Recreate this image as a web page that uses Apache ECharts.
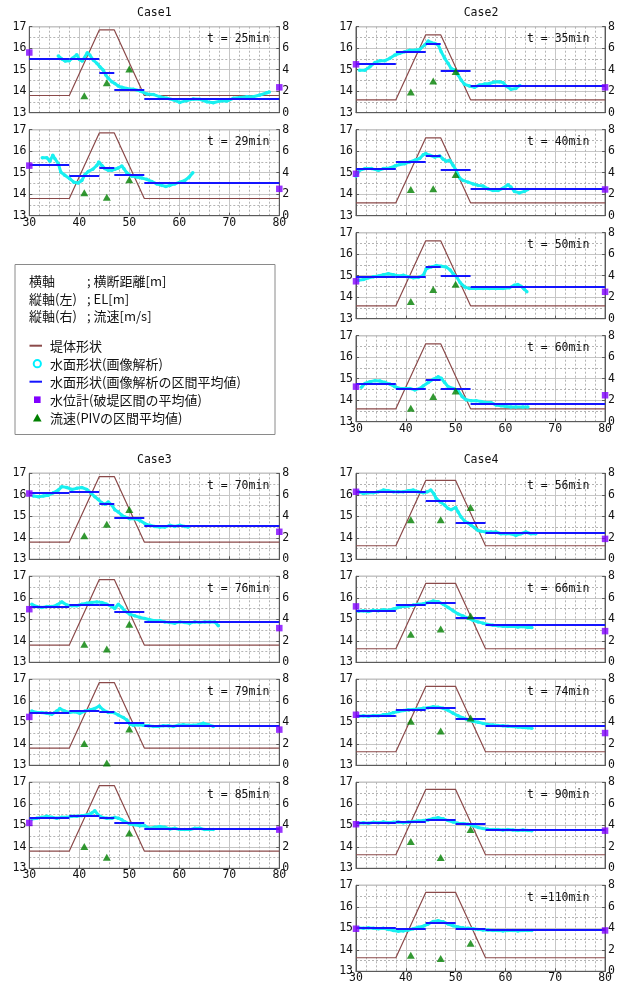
<!DOCTYPE html>
<html>
<head>
<meta charset="utf-8">
<script src="https://cdn.jsdelivr.net/npm/echarts@6/dist/echarts.min.js"></script>
<style>
html,body{margin:0;padding:0;background:#fff;}
#chart{width:618px;height:988px;}
</style>
</head>
<body>
<div id="chart"></div>
<script>
// ---- axis ticks ----
const distTicks = [30, 40, 50, 60, 70, 80];   // 横断距離 [m]
const elevTicks = [13, 14, 15, 16, 17];       // EL [m]
const velTicks  = [0, 2, 4, 6, 8];            // 流速 [m/s]

// ---- dyke cross sections (堤体形状) ----
const dykeCase13 = [[30,13.8],[38,13.8],[44,16.85],[47,16.85],[53,13.8],[80,13.8]];
const dykeCase2  = [[30,13.6],[38,13.6],[44,16.62],[47,16.62],[53,13.6],[80,13.6]];
const dykeCase4  = [[30,13.63],[38,13.63],[44,16.67],[50,16.67],[56,13.63],[80,13.63]];

// section boundaries for the averaged water surface
const boundsA = [30, 38, 44, 47, 53, 80];
const boundsB = [30, 38, 44, 50, 56, 80];
// PIV measurement positions
const velXA = [41, 45.5, 50];
const velXB = [41, 47, 53];
// gauge positions
const gaugeX = [30, 80];

// ---- Case1 ----
const surf_c1_25 = [[35.8,15.64],[36.5,15.5],[37.2,15.4],[38,15.42],[38.6,15.53],[39.5,15.7],[40,15.48],[40.6,15.4],[41.6,15.79],[42.1,15.68],[42.8,15.45],[43.5,15.3],[44.1,15.14],[44.8,14.98],[45.3,14.75],[45.8,14.6],[46.5,14.44],[47.1,14.36],[47.8,14.24],[48.5,14.18],[49.5,14.13],[50.8,14.09],[52.1,14.02],[53.5,13.87],[54.8,13.85],[56.1,13.74],[57.5,13.67],[58.8,13.6],[60.1,13.48],[61.5,13.56],[62.8,13.64],[64.1,13.62],[65.5,13.51],[66.8,13.46],[68.1,13.54],[69.5,13.54],[70.8,13.67],[72.1,13.71],[73.5,13.74],[74.8,13.74],[76.1,13.82],[77.5,13.93],[78,13.96]];
const mean_c1_25 = [15.5, 15.53, 14.86, 14.09, 13.67];
const gauge_c1_25 = [15.8, 14.18];
const vel_c1_25 = [1.58, 2.79, 4.06];

const surf_c1_29 = [[32.6,15.7],[33.5,15.7],[34.1,15.53],[34.7,15.81],[35.1,15.66],[35.8,15.42],[36.3,15.03],[37.1,14.88],[38.1,14.72],[38.9,14.56],[39.8,14.52],[40.5,14.64],[41.1,14.9],[41.8,15.06],[42.7,15.16],[43.5,15.34],[43.9,15.5],[44.5,15.34],[45.1,15.19],[45.8,15.11],[46.5,15.11],[47.1,15.16],[47.8,15.22],[48.5,15.31],[48.9,15.19],[49.5,15.0],[50.5,14.84],[51.5,14.8],[52.5,14.75],[53.5,14.69],[54.5,14.59],[55.5,14.48],[56.5,14.41],[57.3,14.36],[58.1,14.41],[59.1,14.48],[60.1,14.56],[61.1,14.64],[62.0,14.8],[62.7,15.0]];
const mean_c1_29 = [15.38, 14.88, 15.22, 14.9, 14.53];
const gauge_c1_29 = [15.33, 14.25];
const vel_c1_29 = [2.13, 1.72, 3.34];

// ---- Case2 ----
const surf_c2_35 = [[30.7,14.98],[31.8,14.98],[32.8,15.14],[33.8,15.33],[34.8,15.42],[35.8,15.42],[36.8,15.53],[37.8,15.68],[38.8,15.76],[39.8,15.84],[40.8,15.91],[41.8,15.91],[42.8,15.95],[43.8,16.15],[44.5,16.33],[45.1,16.26],[45.8,16.22],[46.5,16.15],[47.1,15.84],[47.8,15.53],[48.5,15.29],[49.1,15.06],[49.8,14.98],[50.5,14.75],[51.1,14.52],[51.8,14.32],[52.8,14.24],[53.8,14.18],[54.8,14.29],[55.8,14.33],[56.8,14.36],[57.8,14.43],[58.8,14.44],[59.5,14.4],[60.1,14.24],[61.1,14.09],[62.1,14.13],[62.9,14.27]];
const mean_c2_35 = [15.26, 15.84, 16.22, 14.97, 14.27];
const gauge_c2_35 = [15.25, 14.18];
const vel_c2_35 = [1.92, 2.95, 3.84];

const surf_c2_40 = [[30,14.83],[30.7,15.11],[31.8,15.19],[33.1,15.19],[34.5,15.11],[35.5,15.19],[36.8,15.22],[37.8,15.31],[38.8,15.38],[39.8,15.42],[40.8,15.5],[41.8,15.58],[42.8,15.66],[43.5,15.84],[44,15.89],[44.8,15.81],[45.8,15.73],[46.8,15.78],[47.5,15.63],[48.1,15.53],[48.8,15.58],[49.5,15.34],[50.1,15.11],[50.8,14.75],[51.5,14.64],[52.5,14.56],[53.5,14.48],[54.5,14.41],[55.5,14.38],[56.5,14.25],[57.5,14.17],[58.5,14.17],[59.5,14.28],[60.5,14.44],[61.1,14.33],[61.8,14.13],[62.8,14.06],[63.8,14.13],[64.5,14.22]];
const mean_c2_40 = [15.19, 15.53, 15.77, 15.16, 14.25];
const gauge_c2_40 = [14.95, 14.22];
const vel_c2_40 = [2.44, 2.5, 3.84];

const surf_c2_50 = [[30.5,14.79],[31.5,14.82],[32.5,14.9],[33.5,14.95],[34.5,14.99],[35.5,15.05],[36.5,15.09],[37.5,15.05],[38.5,14.99],[39.5,15.02],[40.5,14.95],[41.5,14.9],[42.5,14.92],[43.5,15.02],[44.1,15.32],[45.1,15.41],[46.1,15.47],[47.1,15.44],[48.1,15.4],[48.9,15.27],[49.5,15.09],[50.2,14.94],[50.9,14.68],[51.8,14.48],[52.8,14.4],[54.1,14.4],[55.5,14.4],[56.8,14.4],[58.1,14.4],[59.5,14.4],[60.8,14.44],[61.8,14.56],[62.5,14.59],[63.1,14.51],[63.8,14.37],[64.3,14.25]];
const mean_c2_50 = [14.97, 14.97, 15.41, 15.02, 14.47];
const gauge_c2_50 = [14.74, 14.25];
const vel_c2_50 = [1.59, 2.72, 3.21];

const surf_c2_60 = [[31.1,14.6],[31.8,14.78],[32.8,14.86],[33.8,14.91],[34.8,14.89],[35.8,14.83],[36.8,14.75],[37.8,14.63],[38.8,14.55],[39.8,14.55],[40.8,14.55],[41.8,14.48],[42.8,14.55],[43.5,14.66],[44.5,14.82],[45.5,14.97],[46.5,15.09],[47.1,15.02],[47.8,14.82],[48.5,14.63],[49.5,14.55],[50.5,14.45],[51.3,14.17],[52.1,14.02],[53.1,13.98],[54.1,13.98],[55.1,13.94],[56.1,13.89],[57.1,13.89],[58.1,13.78],[59.1,13.74],[60.1,13.71],[61.1,13.68],[62.1,13.68],[63.5,13.68],[64.5,13.68]];
const mean_c2_60 = [14.75, 14.55, 14.97, 14.52, 13.82];
const gauge_c2_60 = [14.63, 14.23];
const vel_c2_60 = [1.26, 2.34, 2.86];

// ---- Case3 ----
const surf_c3_70 = [[30.8,15.94],[31.8,15.91],[32.8,15.94],[33.8,15.98],[34.8,16.09],[35.8,16.22],[36.5,16.38],[37.5,16.34],[38.5,16.25],[39.5,16.3],[40.5,16.34],[41.5,16.25],[42.3,16.09],[43.1,15.91],[43.8,15.78],[44.5,15.63],[45.1,15.56],[45.8,15.67],[46.5,15.52],[47.1,15.31],[47.8,15.2],[48.5,15.05],[49.1,14.97],[50.1,14.89],[51.1,14.89],[52.1,14.81],[53.1,14.66],[54.1,14.58],[55.1,14.53],[56.1,14.5],[57.1,14.5],[58.1,14.58],[59.1,14.53],[60.1,14.58],[61.1,14.53],[61.8,14.5]];
const mean_c3_70 = [16.09, 16.16, 15.59, 14.92, 14.55];
const gauge_c3_70 = [16.06, 14.28];
const vel_c3_70 = [2.19, 3.25, 4.63];

const surf_c3_76 = [[30.5,15.7],[31.5,15.59],[32.5,15.55],[33.5,15.59],[34.5,15.59],[35.5,15.66],[36.5,15.81],[37.5,15.66],[38.5,15.63],[39.5,15.63],[40.5,15.7],[41.5,15.75],[42.5,15.78],[43.5,15.81],[44.5,15.78],[45.5,15.7],[46.5,15.59],[47.1,15.5],[47.8,15.7],[48.5,15.55],[49.1,15.39],[50.1,15.24],[51.1,15.16],[52.1,15.09],[53.1,15.04],[54.1,14.98],[55.1,14.93],[56.1,14.93],[57.1,14.88],[58.1,14.85],[59.1,14.82],[60.1,14.88],[61.1,14.85],[62.1,14.82],[63.1,14.88],[64.1,14.85],[65.1,14.88],[66.1,14.88],[67.1,14.88],[67.8,14.7]];
const mean_c3_76 = [15.59, 15.66, 15.66, 15.35, 14.88];
const gauge_c3_76 = [15.47, 14.59];
const vel_c3_76 = [1.67, 1.23, 3.55];

const surf_c3_79 = [[30.5,15.52],[31.5,15.46],[32.5,15.46],[33.5,15.42],[34.5,15.37],[35.5,15.52],[36.1,15.64],[37.1,15.52],[38.1,15.46],[39.1,15.49],[40.1,15.42],[41.1,15.52],[42.1,15.57],[43.1,15.64],[44,15.76],[44.8,15.57],[45.8,15.46],[46.8,15.46],[47.8,15.34],[48.8,15.22],[49.5,15.11],[50.1,14.92],[50.8,14.86],[51.8,14.89],[52.8,14.86],[53.8,14.84],[54.8,14.81],[55.8,14.81],[56.8,14.84],[57.8,14.84],[58.8,14.81],[59.8,14.86],[60.8,14.89],[61.8,14.86],[62.8,14.86],[63.8,14.89],[64.8,14.96],[65.8,14.89],[66.8,14.81]];
const mean_c3_79 = [15.46, 15.55, 15.49, 14.99, 14.86];
const gauge_c3_79 = [15.25, 14.66];
const vel_c3_79 = [2.02, 0.21, 3.38];

const surf_c3_85 = [[30.5,15.29],[31.5,15.33],[32.5,15.37],[33.5,15.42],[34.5,15.37],[35.5,15.33],[36.5,15.37],[37.5,15.37],[38.5,15.42],[39.5,15.42],[40.5,15.45],[41.5,15.48],[42.5,15.57],[43.1,15.68],[43.8,15.48],[44.5,15.37],[45.5,15.33],[46.5,15.33],[47.1,15.37],[47.8,15.33],[48.5,15.26],[49.1,15.17],[50.1,15.06],[51.1,15.02],[52.1,14.98],[53.1,14.98],[54.1,14.86],[55.1,14.91],[56.1,14.95],[57.1,14.91],[58.1,14.83],[59.1,14.86],[60.1,14.8],[61.1,14.8],[62.1,14.8],[63.1,14.86],[64.1,14.86],[65.1,14.8],[66.1,14.8],[66.8,14.8]];
const mean_c3_85 = [15.33, 15.45, 15.33, 15.11, 14.83];
const gauge_c3_85 = [15.11, 14.8];
const vel_c3_85 = [2.02, 1.02, 3.29];

// ---- Case4 ----
const surf_c4_56 = [[30.5,16.14],[31.5,16.06],[32.5,16.09],[33.5,16.09],[34.5,16.14],[35.5,16.22],[36.5,16.19],[37.5,16.14],[38.5,16.14],[39.5,16.14],[40.5,16.19],[41.5,16.22],[42.5,16.14],[43.5,16.09],[44.3,16.14],[45,16.22],[45.6,16.06],[46.1,15.83],[46.9,15.67],[47.8,15.52],[48.5,15.36],[49.1,15.31],[50,15.41],[50.5,15.2],[51.1,14.97],[51.8,14.78],[52.5,14.69],[53.1,14.58],[53.8,14.47],[54.5,14.34],[55.1,14.31],[56.1,14.27],[57.1,14.27],[58.1,14.27],[59.1,14.19],[60.1,14.19],[61.1,14.19],[62.1,14.11],[63.1,14.19],[64.1,14.27],[65.1,14.19],[66.1,14.19]];
const mean_c4_56 = [16.13, 16.13, 15.7, 14.72, 14.23];
const gauge_c4_56 = [16.14, 13.95];
const vel_c4_56 = [3.69, 3.69, 4.81];

const surf_c4_66 = [[30.5,15.38],[31.5,15.4],[32.5,15.36],[33.5,15.42],[34.5,15.4],[35.5,15.45],[36.5,15.42],[37.5,15.48],[38.5,15.55],[39.5,15.6],[40.5,15.62],[41.5,15.66],[42.5,15.7],[43.5,15.72],[44.5,15.78],[45.5,15.85],[46.5,15.82],[47.5,15.7],[48.5,15.55],[49.5,15.4],[50.5,15.25],[51.5,15.15],[52.5,15.05],[53.5,14.95],[54.5,14.88],[55.5,14.82],[56.5,14.76],[57.5,14.72],[58.5,14.7],[59.5,14.68],[60.5,14.66],[61.5,14.68],[62.5,14.64],[63.5,14.66],[64.5,14.62],[65.3,14.62]];
const mean_c4_66 = [15.4, 15.68, 15.75, 15.08, 14.75];
const gauge_c4_66 = [15.6, 14.45];
const vel_c4_66 = [2.6, 3.1, 4.3];

const surf_c4_74 = [[30.5,15.28],[31.5,15.3],[32.5,15.28],[33.5,15.32],[34.5,15.3],[35.5,15.35],[36.5,15.38],[37.5,15.45],[38.5,15.5],[39.5,15.55],[40.5,15.58],[41.5,15.6],[42.5,15.62],[43.5,15.65],[44.5,15.68],[45.5,15.72],[46.5,15.7],[47.5,15.65],[48.5,15.55],[49.5,15.42],[50.5,15.3],[51.5,15.2],[52.5,15.12],[53.5,15.05],[54.5,15.0],[55.5,14.95],[56.5,14.9],[57.5,14.88],[58.5,14.85],[59.5,14.84],[60.5,14.82],[61.5,14.8],[62.5,14.78],[63.5,14.76],[64.5,14.75],[65.3,14.72]];
const mean_c4_74 = [15.3, 15.58, 15.7, 15.15, 14.85];
const gauge_c4_74 = [15.35, 14.5];
const vel_c4_74 = [4.1, 3.2, 4.4];

const surf_c4_90 = [[30.5,15.1],[31.5,15.12],[32.5,15.1],[33.5,15.14],[34.5,15.12],[35.5,15.15],[36.5,15.12],[37.5,15.14],[38.5,15.15],[39.5,15.12],[40.5,15.15],[41.5,15.18],[42.5,15.2],[43.5,15.22],[44.5,15.25],[45.5,15.32],[46.5,15.35],[47.5,15.3],[48.5,15.22],[49.5,15.15],[50.5,15.1],[51.5,15.08],[52.5,15.05],[53.5,14.98],[54.5,14.9],[55.5,14.85],[56.5,14.82],[57.5,14.8],[58.5,14.8],[59.5,14.78],[60.5,14.8],[61.5,14.78],[62.5,14.76],[63.5,14.78],[64.5,14.76],[65.3,14.75]];
const mean_c4_90 = [15.1, 15.17, 15.27, 15.05, 14.8];
const gauge_c4_90 = [15.05, 14.75];
const vel_c4_90 = [2.5, 1.0, 3.6];

const surf_c4_110 = [[30.5,15.02],[31.5,15.0],[32.5,15.02],[33.5,15.0],[34.5,14.98],[35.5,15.0],[36.5,14.95],[37.5,14.9],[38.5,14.86],[39.5,14.88],[40.5,14.92],[41.5,14.98],[42.5,15.05],[43.5,15.1],[44.5,15.2],[45.5,15.32],[46.5,15.35],[47.5,15.3],[48.5,15.2],[49.5,15.12],[50.5,15.06],[51.5,15.02],[52.5,15.0],[53.5,14.98],[54.5,14.95],[55.5,14.92],[56.5,14.92],[57.5,14.9],[58.5,14.9],[59.5,14.88],[60.5,14.9],[61.5,14.9],[62.5,14.88],[63.5,14.9],[64.5,14.9],[65.3,14.9]];
const mean_c4_110 = [15.03, 14.98, 15.25, 15.0, 14.95];
const gauge_c4_110 = [14.98, 14.9];
const vel_c4_110 = [1.5, 1.2, 2.6];

// ---- layout ----
const FONT_MONO = "'DejaVu Sans Mono', monospace";
const FONT_JP = "'Noto Sans CJK JP', sans-serif";
const COL_LEFT = [29.3, 356];
const LABEL_RIGHT = [269.3, 589.3];
const PW = 250, PH = 86;
const TOPS = [26.7, 129.7, 232.7, 335.7, 473.3, 576.3, 679.3, 782.3, 885.3];

const panels = [
  {col:0,row:0,lab:'t = 25min',dyke:dykeCase13,bounds:boundsA,velX:velXA,surf:surf_c1_25,mean:mean_c1_25,gauge:gauge_c1_25,vel:vel_c1_25,xl:false},
  {col:0,row:1,lab:'t = 29min',dyke:dykeCase13,bounds:boundsA,velX:velXA,surf:surf_c1_29,mean:mean_c1_29,gauge:gauge_c1_29,vel:vel_c1_29,xl:true},
  {col:1,row:0,lab:'t = 35min',dyke:dykeCase2,bounds:boundsA,velX:velXA,surf:surf_c2_35,mean:mean_c2_35,gauge:gauge_c2_35,vel:vel_c2_35,xl:false},
  {col:1,row:1,lab:'t = 40min',dyke:dykeCase2,bounds:boundsA,velX:velXA,surf:surf_c2_40,mean:mean_c2_40,gauge:gauge_c2_40,vel:vel_c2_40,xl:false},
  {col:1,row:2,lab:'t = 50min',dyke:dykeCase2,bounds:boundsA,velX:velXA,surf:surf_c2_50,mean:mean_c2_50,gauge:gauge_c2_50,vel:vel_c2_50,xl:false},
  {col:1,row:3,lab:'t = 60min',dyke:dykeCase2,bounds:boundsA,velX:velXA,surf:surf_c2_60,mean:mean_c2_60,gauge:gauge_c2_60,vel:vel_c2_60,xl:true},
  {col:0,row:4,lab:'t = 70min',dyke:dykeCase13,bounds:boundsA,velX:velXA,surf:surf_c3_70,mean:mean_c3_70,gauge:gauge_c3_70,vel:vel_c3_70,xl:false},
  {col:0,row:5,lab:'t = 76min',dyke:dykeCase13,bounds:boundsA,velX:velXA,surf:surf_c3_76,mean:mean_c3_76,gauge:gauge_c3_76,vel:vel_c3_76,xl:false},
  {col:0,row:6,lab:'t = 79min',dyke:dykeCase13,bounds:boundsA,velX:velXA,surf:surf_c3_79,mean:mean_c3_79,gauge:gauge_c3_79,vel:vel_c3_79,xl:false},
  {col:0,row:7,lab:'t = 85min',dyke:dykeCase13,bounds:boundsA,velX:velXA,surf:surf_c3_85,mean:mean_c3_85,gauge:gauge_c3_85,vel:vel_c3_85,xl:true},
  {col:1,row:4,lab:'t = 56min',dyke:dykeCase4,bounds:boundsB,velX:velXB,surf:surf_c4_56,mean:mean_c4_56,gauge:gauge_c4_56,vel:vel_c4_56,xl:false},
  {col:1,row:5,lab:'t = 66min',dyke:dykeCase4,bounds:boundsB,velX:velXB,surf:surf_c4_66,mean:mean_c4_66,gauge:gauge_c4_66,vel:vel_c4_66,xl:false},
  {col:1,row:6,lab:'t = 74min',dyke:dykeCase4,bounds:boundsB,velX:velXB,surf:surf_c4_74,mean:mean_c4_74,gauge:gauge_c4_74,vel:vel_c4_74,xl:false},
  {col:1,row:7,lab:'t = 90min',dyke:dykeCase4,bounds:boundsB,velX:velXB,surf:surf_c4_90,mean:mean_c4_90,gauge:gauge_c4_90,vel:vel_c4_90,xl:false},
  {col:1,row:8,lab:'t =110min',dyke:dykeCase4,bounds:boundsB,velX:velXB,surf:surf_c4_110,mean:mean_c4_110,gauge:gauge_c4_110,vel:vel_c4_110,xl:true}
];

const caseTitles = [
  {text:'Case1', col:0, row:0},
  {text:'Case2', col:1, row:0},
  {text:'Case3', col:0, row:4},
  {text:'Case4', col:1, row:4}
];

const C_DYKE = '#8b4a4a', C_SURF = '#18f0f0', C_MEAN = '#1414ff', C_GAUGE = '#8000ff', C_VEL = '#008000';
const C_FRAME = '#5a5a5a', C_MAJOR = '#c6c6c6', C_MINOR = '#b4b4b4';

const grid = [], xAxis = [], yAxis = [], series = [], graphic = [];

panels.forEach((p, i) => {
  const left = COL_LEFT[p.col], top = TOPS[p.row];
  grid.push({left, top, width: PW, height: PH, show: true, borderColor: C_FRAME, borderWidth: 1, backgroundColor: '#fff'});
  const axisCommon = {
    axisLine: {show: true, onZero: false, lineStyle: {color: C_FRAME, width: 1}},
    axisTick: {show: true, inside: true, length: 3, lineStyle: {color: C_FRAME}},
  };
  xAxis.push(Object.assign({
    type: 'value', gridIndex: i,
    min: distTicks[0], max: distTicks[distTicks.length - 1], interval: distTicks[1] - distTicks[0],
    axisLabel: {show: p.xl, margin: 1, fontFamily: FONT_MONO, fontSize: 11.5, color: '#111'},
    splitLine: {show: true, lineStyle: {color: C_MAJOR, width: 1}},
    minorTick: {show: false, splitNumber: 5},
    minorSplitLine: {show: true, lineStyle: {color: C_MINOR, width: 1, type: [2, 2]}}
  }, axisCommon));
  yAxis.push(Object.assign({
    type: 'value', gridIndex: i, position: 'left',
    min: elevTicks[0], max: elevTicks[elevTicks.length - 1], interval: elevTicks[1] - elevTicks[0],
    axisLabel: {margin: 3, fontFamily: FONT_MONO, fontSize: 11.5, color: '#111'},
    splitLine: {show: true, lineStyle: {color: C_MAJOR, width: 1}},
    minorTick: {show: false, splitNumber: 2},
    minorSplitLine: {show: true, lineStyle: {color: C_MINOR, width: 1, type: [2, 2]}}
  }, axisCommon));
  yAxis.push(Object.assign({
    type: 'value', gridIndex: i, position: 'right',
    min: velTicks[0], max: velTicks[velTicks.length - 1], interval: velTicks[1] - velTicks[0],
    axisLabel: {margin: 3, fontFamily: FONT_MONO, fontSize: 11.5, color: '#111'},
    splitLine: {show: false}
  }, axisCommon));

  const yl = 2 * i, yr = 2 * i + 1;
  // 堤体形状
  series.push({type: 'line', xAxisIndex: i, yAxisIndex: yl, data: p.dyke, symbol: 'none',
    lineStyle: {color: C_DYKE, width: 1.2}, silent: true, z: 2});
  // 水面形状（画像解析）
  series.push({type: 'line', xAxisIndex: i, yAxisIndex: yl, data: p.surf, symbol: 'circle', symbolSize: 3.5,
    itemStyle: {color: C_SURF, borderWidth: 0}, lineStyle: {color: C_SURF, width: 3}, silent: true, z: 3});
  // 区間平均値
  const segs = p.mean.map((v, k) => ({coords: [[p.bounds[k], v], [p.bounds[k + 1], v]]}));
  series.push({type: 'lines', coordinateSystem: 'cartesian2d', xAxisIndex: i, yAxisIndex: yl, data: segs,
    lineStyle: {color: C_MEAN, width: 1.8, opacity: 1}, silent: true, z: 4});
  // 流速（PIV）
  series.push({type: 'scatter', xAxisIndex: i, yAxisIndex: yr, data: p.vel.map((v, k) => [p.velX[k], v]),
    symbol: 'triangle', symbolSize: [8, 7], itemStyle: {color: C_VEL}, silent: true, clip: false, z: 5});
  // 水位計
  series.push({type: 'scatter', xAxisIndex: i, yAxisIndex: yl, data: p.gauge.map((v, k) => [gaugeX[k], v]),
    symbol: 'rect', symbolSize: 6.5, itemStyle: {color: C_GAUGE}, silent: true, clip: false, z: 6});

  graphic.push({type: 'text', x: LABEL_RIGHT[p.col], y: top + 12.6, z: 10,
    style: {text: p.lab, font: '11.5px ' + FONT_MONO, fill: '#111', textAlign: 'right', textVerticalAlign: 'middle'}});
});

caseTitles.forEach(t => {
  graphic.push({type: 'text', x: COL_LEFT[t.col] + PW / 2, y: TOPS[t.row] - 13.5, z: 10,
    style: {text: t.text, font: '11.5px ' + FONT_MONO, fill: '#111', textAlign: 'center', textVerticalAlign: 'middle'}});
});

// explanatory box
const lg = [];
lg.push({type: 'rect', shape: {x: 15, y: 264.5, width: 260, height: 170}, style: {fill: '#fff', stroke: '#8a8a8a', lineWidth: 1}});
const axisNotes = [['横軸', '; 横断距離[m]', 281.5], ['縦軸(左)', '; EL[m]', 299], ['縦軸(右)', '; 流速[m/s]', 316.5]];
axisNotes.forEach(n => {
  lg.push({type: 'text', x: 29, y: n[2], style: {text: n[0], font: '13px ' + FONT_JP, fill: '#111', textVerticalAlign: 'middle'}});
  lg.push({type: 'text', x: 87, y: n[2], style: {text: n[1], font: '13px ' + FONT_JP, fill: '#111', textVerticalAlign: 'middle'}});
});
const items = [
  ['堤体形状', 345.7], ['水面形状(画像解析)', 363.7], ['水面形状(画像解析の区間平均値)', 381.7],
  ['水位計(破堤区間の平均値)', 399.7], ['流速(PIVの区間平均値)', 418]
];
items.forEach(it => {
  lg.push({type: 'text', x: 50, y: it[1], style: {text: it[0], font: '13px ' + FONT_JP, fill: '#111', textVerticalAlign: 'middle'}});
});
lg.push({type: 'line', shape: {x1: 29.5, y1: 345.7, x2: 42, y2: 345.7}, style: {stroke: C_DYKE, lineWidth: 2}});
lg.push({type: 'circle', shape: {cx: 37.3, cy: 363.7, r: 3.6}, style: {fill: '#fff', stroke: '#00f0ff', lineWidth: 2}});
lg.push({type: 'line', shape: {x1: 29.5, y1: 381.7, x2: 42, y2: 381.7}, style: {stroke: C_MEAN, lineWidth: 2}});
lg.push({type: 'rect', shape: {x: 34, y: 396.4, width: 6.6, height: 6.6}, style: {fill: C_GAUGE}});
lg.push({type: 'polygon', shape: {points: [[37.3, 413.8], [41.6, 421.5], [33, 421.5]]}, style: {fill: C_VEL}});
graphic.push({type: 'group', children: lg, z: 20});

const chart = echarts.init(document.getElementById('chart'), null, {renderer: 'canvas'});
chart.setOption({
  animation: false,
  backgroundColor: '#fff',
  grid, xAxis, yAxis, series, graphic
});
</script>
</body>
</html>
